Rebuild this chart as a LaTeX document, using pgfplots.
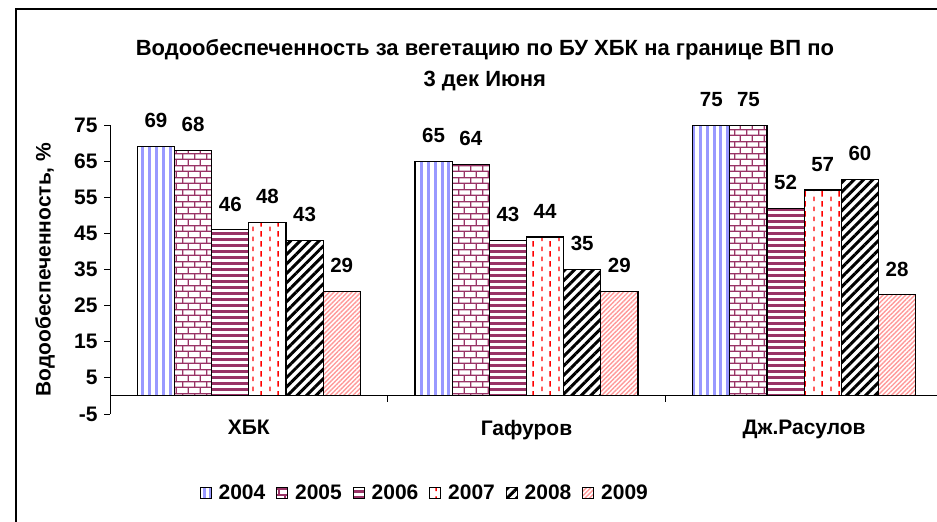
\documentclass[border=0pt]{standalone}
\usepackage{pgfplots}
\pgfplotsset{compat=1.18}
\usepackage{fontspec}
\setmainfont{Liberation Sans}
\usetikzlibrary{patterns,patterns.meta}

\definecolor{cblue}{RGB}{153,153,255}
\definecolor{cmaroon}{RGB}{153,51,102}
\definecolor{cred}{RGB}{255,0,0}
\definecolor{csalmon}{RGB}{255,153,153}

\tikzdeclarepattern{
  name=mybricks,
  type=uncolored,
  bounding box={(0pt,0pt) and (12pt,12pt)},
  tile size={(12pt,12pt)},
  code={
    \draw[line width=1.4pt] (-1pt,3pt) -- (13pt,3pt);
    \draw[line width=1.4pt] (-1pt,9pt) -- (13pt,9pt);
    \draw[line width=1.4pt] (3pt,3pt) -- (3pt,9pt);
    \draw[line width=1.4pt] (9pt,9pt) -- (9pt,13pt);
    \draw[line width=1.4pt] (9pt,-1pt) -- (9pt,3pt);
  }
}
\tikzdeclarepattern{
  name=mydashes,
  type=uncolored,
  bounding box={(0pt,0pt) and (16.6pt,10pt)},
  tile size={(16.6pt,10pt)},
  code={
    \draw[line width=1.4pt] (4.15pt,1pt) -- (4.15pt,6pt);
    \draw[line width=1.4pt] (12.45pt,6pt) -- (12.45pt,11pt);
    \draw[line width=1.4pt] (12.45pt,-4pt) -- (12.45pt,1pt);
  }
}

\begin{document}
\begin{tikzpicture}[x=1pt,y=1pt]
\useasboundingbox (0,0) rectangle (937,522);
\draw[line width=1.3pt] (16,-5) -- (16,513) -- (945,513);
\begin{axis}[
  at={(110pt,108pt)}, anchor=south west,
  scale only axis, width=833pt, height=289pt,
  xmin=-0.5, xmax=2.5, ymin=-5, ymax=75,
  axis x line*=bottom, axis y line*=left,
  x axis line style={draw=none},
  y axis line style={line width=1pt},
  xtick={0,1,2},
  xticklabels={ХБК,Гафуров,Дж.Расулов},
  x tick style={draw=none},
  ytick={-5,5,...,75},
  y tick style={black, line width=1pt},
  tick align=outside, major tick length=6pt,
  /pgf/number format/assume math mode=true,
  ticklabel style={font=\bfseries\fontsize{21}{24}\selectfont},
  yticklabel style={xshift=-3pt},
  xticklabel style={yshift=3pt},
  ylabel={Водообеспеченность, \%},
  ylabel style={font=\bfseries\fontsize{21}{24}\selectfont, at={(axis description cs:-0.078,0.5)}, anchor=center},
  title={Водообеспеченность за вегетацию по БУ ХБК на границе ВП по\\[3pt]3 дек Июня},
  title style={font=\bfseries\fontsize{22}{28}\selectfont, align=center, at={(axis description cs:0.45,1.185)}, anchor=center},
  ybar=0pt, bar width=0.1338,
  every axis plot/.append style={draw=black, line width=1.1pt},
  nodes near coords,
  every node near coord/.append style={font=\bfseries\fontsize{20.5}{24}\selectfont, inner sep=0pt, yshift=18pt, anchor=south, text=black},
  area legend,
  legend image code/.code={\draw[#1, line width=0.8pt] (0pt,-5.5pt) rectangle (11pt,5.5pt);},
  legend columns=6,
  legend style={at={(0.378,-0.273)}, anchor=center, draw=none, fill=none,
    font=\bfseries\fontsize{21}{24}\selectfont,
    /tikz/every odd column/.append style={column sep=5pt},
    /tikz/every even column/.append style={column sep=9pt}},
]
\addplot[pattern={Lines[angle=90,distance=6.8pt,line width=3pt]}, pattern color=cblue]
  coordinates {(0,69) (1,65) (2,75)};
\addplot[pattern=mybricks, pattern color=cmaroon]
  coordinates {(0,68) (1,64) (2,75)};
\addplot[pattern={Lines[angle=0,distance=6pt,line width=3pt]}, pattern color=cmaroon]
  coordinates {(0,46) (1,43) (2,52)};
\addplot[pattern=mydashes, pattern color=cred]
  coordinates {(0,48) (1,44) (2,57)};
\addplot[pattern={Lines[angle=45,distance=6.7pt,line width=3pt]}, pattern color=black]
  coordinates {(0,43) (1,35) (2,60)};
\addplot[pattern={Lines[angle=45,distance=3.2pt,line width=1.4pt]}, pattern color=csalmon]
  coordinates {(0,29) (1,29) (2,28)};
\legend{2004,2005,2006,2007,2008,2009}
\draw[line width=1pt] (axis cs:-0.5,0) -- (axis cs:2.5,0);
\draw[line width=1pt] (axis cs:0.5,0) -- ++(0pt,-6pt);
\draw[line width=1pt] (axis cs:1.5,0) -- ++(0pt,-6pt);
\end{axis}
\end{tikzpicture}
\end{document}
